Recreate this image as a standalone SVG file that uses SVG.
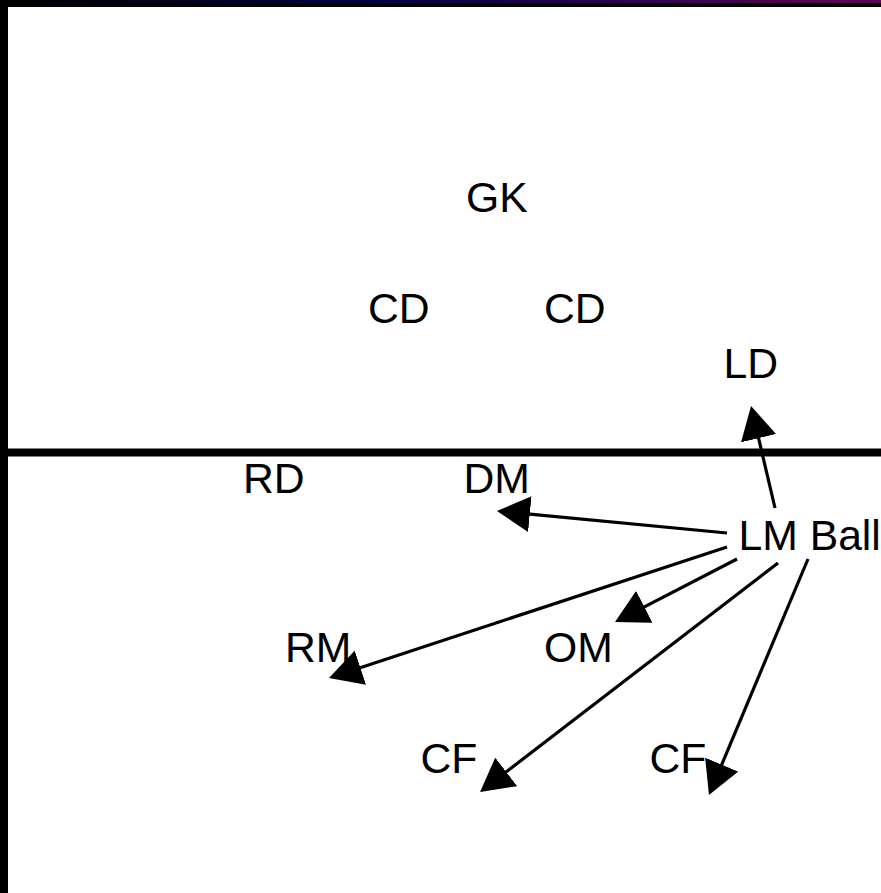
<svg xmlns="http://www.w3.org/2000/svg" width="881" height="893" viewBox="0 0 881 893">
<style>
.lbl{font-family:"Liberation Sans",Arial,sans-serif;font-size:42.7px;fill:#000}
.pass{stroke:#000;stroke-width:3.2;fill:none;marker-end:url(#head)}
</style>
<defs>
<linearGradient id="topg" x1="0" y1="0" x2="1" y2="0">
<stop offset="0" stop-color="#000000"/>
<stop offset="0.43" stop-color="#000040"/>
<stop offset="1" stop-color="#5a0a50"/>
</linearGradient>
<marker id="head" markerUnits="userSpaceOnUse" markerWidth="33" markerHeight="36" viewBox="0 0 33 36" refX="13" refY="18" orient="auto">
<path d="M0,0 L33,18 L0,36 Z" fill="#000"/>
</marker>
</defs>
<rect x="0" y="0" width="881" height="893" fill="#fff"/>
<g id="field">
<rect x="0" y="0" width="881" height="7" fill="#000"/>
<rect x="0" y="0" width="881" height="3" fill="url(#topg)"/>
<rect x="0" y="0" width="8" height="893" fill="#000"/>
<rect x="0" y="448.5" width="881" height="8" fill="#000"/>
</g>
<g id="connectors">
<line class="pass" x1="775" y1="508" x2="755.6" y2="425.5"/>
<line class="pass" x1="727" y1="533" x2="516.9" y2="512.9"/>
<line class="pass" x1="727" y1="547" x2="348.0" y2="671.7"/>
<line class="pass" x1="737" y1="559" x2="632.8" y2="612.8"/>
<line class="pass" x1="778" y1="563" x2="495.9" y2="779.8"/>
<line class="pass" x1="808" y1="559" x2="716.7" y2="776.6"/>
</g>
<g id="gk"><text class="lbl" x="466" y="212">GK</text></g>
<g id="cd1"><text class="lbl" x="368" y="323">CD</text></g>
<g id="cd2"><text class="lbl" x="544" y="323">CD</text></g>
<g id="ld"><text class="lbl" x="723.5" y="378">LD</text></g>
<g id="rd"><text class="lbl" x="243" y="493">RD</text></g>
<g id="dm"><text class="lbl" x="463.5" y="493">DM</text></g>
<g id="lm"><text class="lbl" x="738.5" y="550">LM Ball</text></g>
<g id="rm"><text class="lbl" x="285" y="662">RM</text></g>
<g id="om"><text class="lbl" x="544" y="662">OM</text></g>
<g id="cf1"><text class="lbl" x="420.5" y="773">CF</text></g>
<g id="cf2"><text class="lbl" x="649.5" y="773">CF</text></g>
</svg>
